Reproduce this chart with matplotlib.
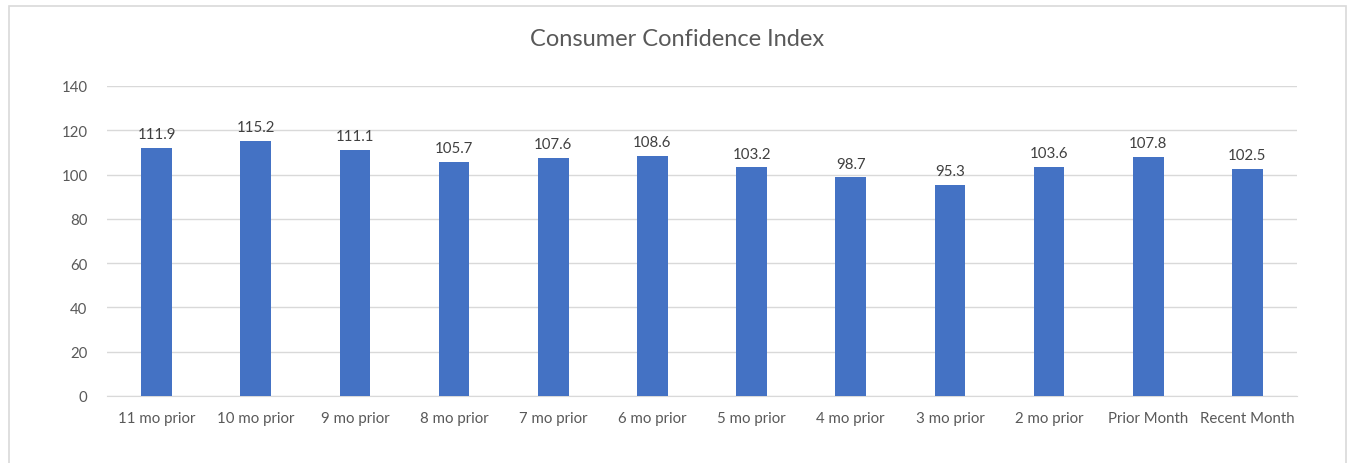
import matplotlib
matplotlib.use("Agg")
import matplotlib.pyplot as plt
from matplotlib.patches import Rectangle

categories = ["11 mo prior", "10 mo prior", "9 mo prior", "8 mo prior", "7 mo prior",
              "6 mo prior", "5 mo prior", "4 mo prior", "3 mo prior", "2 mo prior",
              "Prior Month", "Recent Month"]
values = [111.9, 115.2, 111.1, 105.7, 107.6, 108.6, 103.2, 98.7, 95.3, 103.6, 107.8, 102.5]
yticks = [0, 20, 40, 60, 80, 100, 120, 140]
title = "Consumer Confidence Index"

W, H = 1355, 464
fig = plt.figure(figsize=(W / 100, H / 100), dpi=100)
plt.rcParams['font.family'] = ['Lato', 'DejaVu Sans']

# chart border
fig.patches.append(Rectangle((9 / W, -0.05), (1346 - 9) / W, 1.05 - 7 / H,
                             transform=fig.transFigure, fill=False,
                             edgecolor="#D9D9D9", linewidth=1.2))

left, right = 107 / W, 1297 / W
bottom, top = 1 - 397 / H, 1 - 87 / H
ax = fig.add_axes([left, bottom, right - left, top - bottom])

x = list(range(len(categories)))
bars = ax.bar(x, values, width=0.31, color="#4472C4", zorder=3)
ax.set_xlim(-0.5, len(categories) - 0.5)
ax.set_ylim(0, 140)
ax.set_yticks(yticks)
ax.set_xticks(x)
ax.set_xticklabels(categories)
ax.grid(axis="y", color="#D9D9D9", linewidth=1, zorder=0)
for s in ["top", "right", "left"]:
    ax.spines[s].set_visible(False)
ax.spines["bottom"].set_color("#D9D9D9")
ax.tick_params(axis="both", length=0, colors="#595959", labelsize=10.8)
ax.tick_params(axis="x", pad=11)
ax.tick_params(axis="y", pad=14)

for b, v in zip(bars, values):
    ax.annotate(f"{v:.1f}", (b.get_x() + b.get_width() / 2, v),
                xytext=(0, 5), textcoords="offset points",
                ha="center", va="bottom", fontsize=10.8, color="#404040")

fig.text(0.5, 1 - 40 / H, title, ha="center", va="center",
         fontsize=17, color="#595959")

fig.savefig("out.png", dpi=100)
